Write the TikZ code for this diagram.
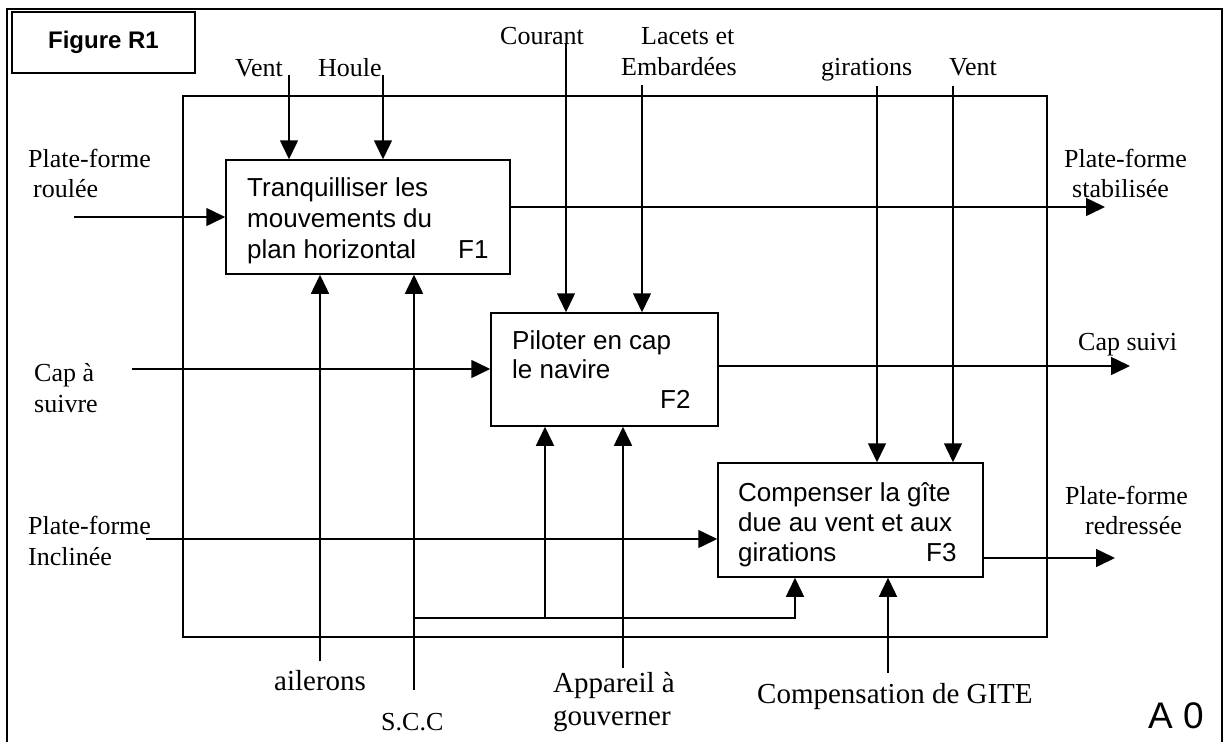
\documentclass[tikz,border=0pt]{standalone}
\usepackage{fontspec}
\setmainfont{Liberation Serif}
\setsansfont{Liberation Sans}
\usetikzlibrary{arrows.meta}
\begin{document}
\begin{tikzpicture}[x=1pt,y=-1pt,
  lab/.style={anchor=base west,inner sep=0pt,font=\fontsize{26}{30}\selectfont},
  blab/.style={anchor=base west,inner sep=0pt,font=\fontsize{29}{33}\selectfont},
  btxt/.style={anchor=base west,inner sep=0pt,font=\sffamily\fontsize{26}{30}\selectfont},
  fbox/.style={draw,line width=1.5pt,inner sep=0pt},
  arr/.style={line width=1.5pt,-{Triangle[length=19pt,width=18pt]}},
  ln/.style={line width=1.5pt}]
\useasboundingbox (0,0) rectangle (1224,742);
% outer frame
\draw[ln] (7,742) -- (7,9) -- (1222,9) -- (1222,742);
% title box
\node[fbox,minimum width=183pt,minimum height=61pt,font=\sffamily\bfseries\fontsize{24}{28}\selectfont] (fig) at (103.5,42.5) {Figure R1};
% inner boundary
\draw[ln] (183,96) rectangle (1047,637);
% function boxes
\node[fbox,minimum width=284pt,minimum height=114pt] (F1) at (368,217) {};
\node[fbox,minimum width=227pt,minimum height=113pt] (F2) at (604.5,369.5) {};
\node[fbox,minimum width=265pt,minimum height=114pt] (F3) at (850.5,520) {};
% box texts
\node[btxt] (t1a) at (247,196) {Tranquilliser les};
\node[btxt] (t1b) at (247,227) {mouvements du};
\node[btxt] (t1c) at (247,258) {plan horizontal};
\node[btxt] (t1d) at (458,258) {F1};
\node[btxt] (t2a) at (512,349) {Piloter en cap};
\node[btxt] (t2b) at (512,378) {le navire};
\node[btxt] (t2c) at (660,408) {F2};
\node[btxt] (t3a) at (738,501) {Compenser la gîte};
\node[btxt] (t3b) at (738,531) {due au vent et aux};
\node[btxt] (t3c) at (738,561) {girations};
\node[btxt] (t3d) at (926,561) {F3};
% top labels
\node[lab] (lvent1) at (235,76) {Vent};
\node[lab] (lhoule) at (318,76) {Houle};
\node[lab] (lcour) at (500,44) {Courant};
\node[lab] (llac1) at (641,44) {Lacets et};
\node[lab] (llac2) at (621,75) {Embardées};
\node[lab] (lgir) at (821,75) {girations};
\node[lab] (lvent2) at (949,75) {Vent};
% left labels
\node[lab] (lpr1) at (28,167) {Plate-forme};
\node[lab] (lpr2) at (33,197) {roulée};
\node[lab] (lcap1) at (34,381) {Cap à};
\node[lab] (lcap2) at (34,412) {suivre};
\node[lab] (lpi1) at (28,534) {Plate-forme};
\node[lab] (lpi2) at (28,565) {Inclinée};
% right labels
\node[lab] (lps1) at (1064,167) {Plate-forme};
\node[lab] (lps2) at (1072,197) {stabilisée};
\node[lab] (lcs) at (1078,350) {Cap suivi};
\node[lab] (lrd1) at (1065,504) {Plate-forme};
\node[lab] (lrd2) at (1085,534) {redressée};
% bottom labels
\node[blab] (lail) at (274,690) {ailerons};
\node[lab] (lscc) at (381,730) {S.C.C};
\node[blab] (lapp1) at (553,692) {Appareil à};
\node[blab] (lapp2) at (553,725) {gouverner};
\node[blab] (lcomp) at (757,703) {Compensation de GITE};
\node[anchor=base west,inner sep=0pt,font=\sffamily\fontsize{37}{40}\selectfont] (a0) at (1148,728) {A 0};
% control / input start points
\coordinate (cvent1) at (289,75);
\coordinate (choule) at (383,75);
\coordinate (ccour) at (566,43);
\coordinate (clac) at (642,85);
\coordinate (cgir) at (877,86);
\coordinate (cvent2) at (953,86);
\coordinate (cpr) at (74,217);
\coordinate (ccap) at (132,369);
\coordinate (cpi) at (146,539);
\coordinate (ops) at (1105,207);
\coordinate (ocs) at (1130,366);
\coordinate (ord) at (1115,558);
\coordinate (cail) at (320,661);
\coordinate (cscc) at (414,690);
\coordinate (cj) at (414,618);
\coordinate (cj2) at (545,618);
\coordinate (cj3) at (795,618);
\coordinate (capp) at (623,668);
\coordinate (ccomp) at (888,673);
% arrows
\draw[arr] (cvent1) -- (cvent1 |- F1.north);
\draw[arr] (choule) -- (choule |- F1.north);
\draw[arr] (ccour) -- (ccour |- F2.north);
\draw[arr] (clac) -- (clac |- F2.north);
\draw[arr] (cgir) -- (cgir |- F3.north);
\draw[arr] (cvent2) -- (cvent2 |- F3.north);
\draw[arr] (cpr) -- (cpr -| F1.west);
\draw[arr] (ccap) -- (ccap -| F2.west);
\draw[arr] (cpi) -- (cpi -| F3.west);
\draw[arr] (ops -| F1.east) -- (ops);
\draw[arr] (ocs -| F2.east) -- (ocs);
\draw[arr] (ord -| F3.east) -- (ord);
\draw[arr] (cail) -- (cail |- F1.south);
\draw[arr] (cscc) -- (cscc |- F1.south);
\draw[arr] (cj) -- (cj3) -- (cj3 |- F3.south);
\draw[arr] (cj2) -- (cj2 |- F2.south);
\draw[arr] (capp) -- (capp |- F2.south);
\draw[arr] (ccomp) -- (ccomp |- F3.south);
\end{tikzpicture}
\end{document}
